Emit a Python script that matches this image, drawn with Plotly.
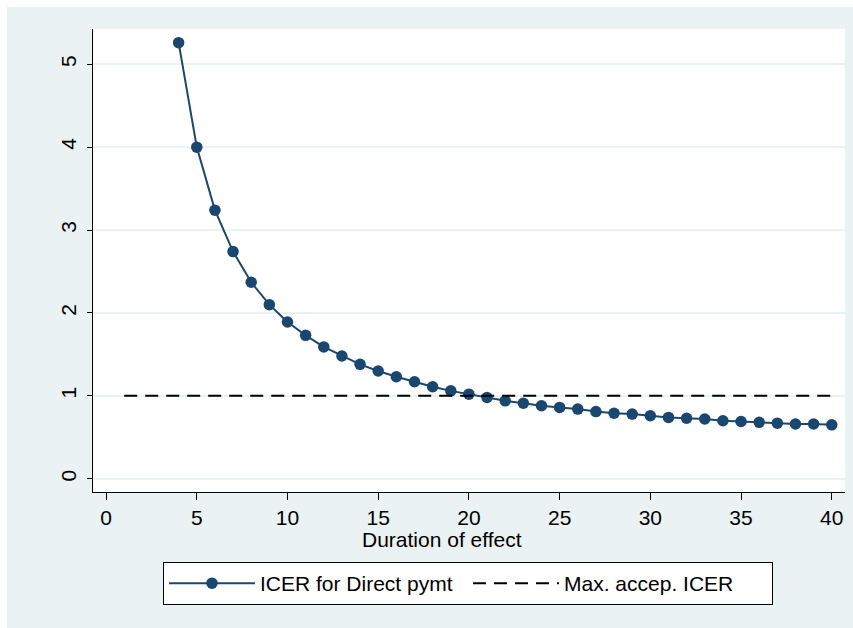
import plotly.graph_objects as go

duration = list(range(4, 41))
icer = [5.26, 4.00, 3.24, 2.74, 2.37, 2.10, 1.89, 1.73, 1.59, 1.48,
        1.38, 1.30, 1.23, 1.17, 1.11, 1.06, 1.02, 0.98, 0.94, 0.91,
        0.88, 0.86, 0.84, 0.81, 0.79, 0.78, 0.76, 0.74, 0.73, 0.72,
        0.70, 0.69, 0.68, 0.67, 0.66, 0.66, 0.65]
max_x = [1, 40]
max_y = [1, 1]

x_ticks = [0, 5, 10, 15, 20, 25, 30, 35, 40]
y_ticks = [0, 1, 2, 3, 4, 5]

NAVY = "#1a476f"
BG = "#eaf2f3"
FONT = "Liberation Sans, Arial, sans-serif"

fig = go.Figure()
fig.add_trace(go.Scatter(
    x=duration, y=icer, mode="lines+markers", name="ICER for Direct pymt",
    line=dict(color=NAVY, width=2), marker=dict(color=NAVY, size=11.5),
))
fig.add_trace(go.Scatter(
    x=max_x, y=max_y, mode="lines", name="Max. accep. ICER",
    line=dict(color="black", width=2, dash="13px,8px"),
))

L, R, T, B = 93, 8, 29, 136
W, H = 853, 628
pw = W - L - R
ph = H - T - B

def px_x(p):
    return (p - L) / pw

def px_y(p):
    return (H - B - p) / ph

fig.update_layout(
    width=W, height=H,
    margin=dict(l=L, r=R, t=T, b=B),
    paper_bgcolor=BG, plot_bgcolor="white",
    font=dict(family=FONT, size=21, color="black"),
    showlegend=True,
    legend=dict(
        orientation="h", x=px_x(468), xanchor="center", y=px_y(562), yanchor="top",
        bgcolor="white", bordercolor="black", borderwidth=1,
        font=dict(size=21), itemwidth=86, traceorder="normal",
        entrywidth=203, entrywidthmode="pixels",
    ),
    xaxis=dict(
        range=[-0.72, 40.73], tickvals=x_ticks, ticks="outside", ticklen=7,
        tickcolor="black", showline=True, linecolor="black", linewidth=1,
        showgrid=False, zeroline=False, mirror=False,
    ),
    yaxis=dict(
        range=[-0.16, 5.425], tickvals=y_ticks, ticks="outside", ticklen=5,
        tickcolor="black", showline=True, linecolor="black", linewidth=1,
        showgrid=True, gridcolor=BG, gridwidth=2, zeroline=False,
        tickangle=-90, ticklabelstandoff=3,
    ),
    annotations=[dict(
        text="Duration of effect", xref="paper", yref="paper",
        x=px_x(442), y=px_y(539), xanchor="center", yanchor="middle",
        showarrow=False, font=dict(size=21),
    )],
    shapes=[
        dict(type="rect", xref="paper", yref="paper", layer="below",
             x0=px_x(0), x1=px_x(7), y0=px_y(H), y1=px_y(0),
             fillcolor="white", line=dict(width=0)),
        dict(type="rect", xref="paper", yref="paper", layer="below",
             x0=px_x(0), x1=px_x(W), y0=px_y(7), y1=px_y(0),
             fillcolor="white", line=dict(width=0)),
    ],
)

fig.write_html("out.html")
